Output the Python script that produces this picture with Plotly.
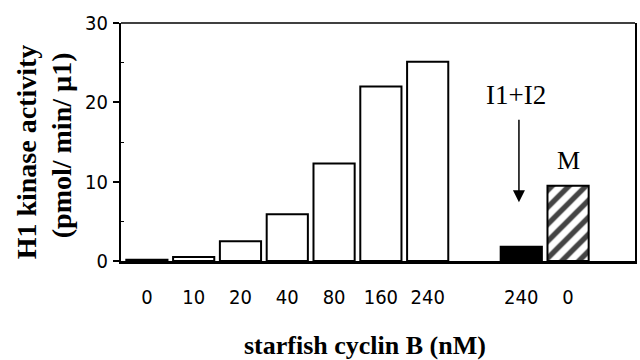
import plotly.graph_objects as go

# Data
categories = ["0", "10", "20", "40", "80", "160", "240", "240", "0"]
activity = [0.15, 0.5, 2.5, 5.9, 12.3, 22.0, 25.1, 1.8, 9.5]
groups = ["cyclin"] * 7 + ["I1+I2", "M"]
y_ticks = [0, 10, 20, 30]

# positions: gap of one slot between the dose series and the controls
positions = []
p = 0
for i, g in enumerate(groups):
    if i > 0 and g != "cyclin" and groups[i - 1] == "cyclin":
        p += 1
    positions.append(p)
    p += 1

fills = []
patterns = []
for g in groups:
    if g == "I1+I2":
        fills.append("black"); patterns.append("")
    elif g == "M":
        fills.append("white"); patterns.append("/")
    else:
        fills.append("white"); patterns.append("")

num_font = "Liberation Sans Narrow, Arial Narrow, DejaVu Sans Condensed, sans-serif"
serif = "Liberation Serif, Times New Roman, serif"

fig = go.Figure()
fig.add_trace(go.Bar(
    x=positions, y=activity, width=0.88,
    marker=dict(color=fills, line=dict(color="black", width=2),
                pattern=dict(shape=patterns, fgcolor="black",
                             fgopacity=1, size=12, solidity=0.45, fillmode="overlay")),
    showlegend=False,
))

fig.update_layout(
    width=640, height=360,
    margin=dict(l=121, r=3, t=23, b=99),
    paper_bgcolor="white", plot_bgcolor="white",
    xaxis=dict(range=[-0.553, 10.43], tickvals=positions, ticktext=categories,
               showline=True, linecolor="black", linewidth=2.5, ticks="",
               showgrid=False, zeroline=False,
               tickfont=dict(family=num_font, size=20, color="black"),
               ticklabelstandoff=16),
    yaxis=dict(range=[0, 30], tickvals=y_ticks, showline=True, linecolor="black",
               linewidth=2, mirror=True, ticks="outside", ticklen=6, tickwidth=1.5,
               tickcolor="black", showgrid=False, zeroline=False,
               tickfont=dict(family=num_font, size=20, color="black"),
               ticklabelstandoff=1,
               minor=dict(tickvals=[5, 15, 25], ticks="inside", ticklen=3,
                          tickcolor="black", tickwidth=1)),
    shapes=[dict(type="line", xref="paper", yref="paper", x0=0, x1=1, y0=1, y1=1,
                 line=dict(color="black", width=1.5))],
)

anns = [
    dict(text="<b>H1 kinase activity</b>", xref="paper", yref="paper",
         x=-121 / 516 + 26 / 516, y=(261 - 152) / 238, textangle=-90,
         showarrow=False, font=dict(family=serif, size=28, color="black"),
         xanchor="center", yanchor="middle"),
    dict(text="<b>(pmol/ min/ µ1)</b>", xref="paper", yref="paper",
         x=-121 / 516 + 61 / 516, y=(261 - 145) / 238, textangle=-90,
         showarrow=False, font=dict(family=serif, size=28, color="black"),
         xanchor="center", yanchor="middle"),
    dict(text="<b>starfish cyclin B (nM)</b>", xref="paper", yref="paper",
         x=(366 - 121) / 516, y=-(345 - 261) / 238, showarrow=False,
         font=dict(family=serif, size=26, color="black"),
         xanchor="center", yanchor="middle"),
    dict(text="I1+I2", x=positions[7] - 0.12, y=(261 - 95) / 7.92, xref="x", yref="y",
         showarrow=False, font=dict(family=serif, size=27, color="black"),
         xanchor="center", yanchor="middle"),
    dict(text="", x=positions[7] - 0.05, y=activity[7] + 5.6, xref="x", yref="y",
         ax=0, ay=-84, axref="pixel", ayref="pixel", showarrow=True,
         arrowhead=2, arrowsize=1.6, arrowwidth=1.5, arrowcolor="black"),
    dict(text="M", x=positions[8], y=activity[8] + 3.2, xref="x", yref="y",
         showarrow=False, font=dict(family=serif, size=26, color="black"),
         xanchor="center", yanchor="middle"),
]
fig.update_layout(annotations=anns)

fig.write_html("out.html", config={"displayModeBar": False},
               post_script="document.body.style.margin='0px';")
